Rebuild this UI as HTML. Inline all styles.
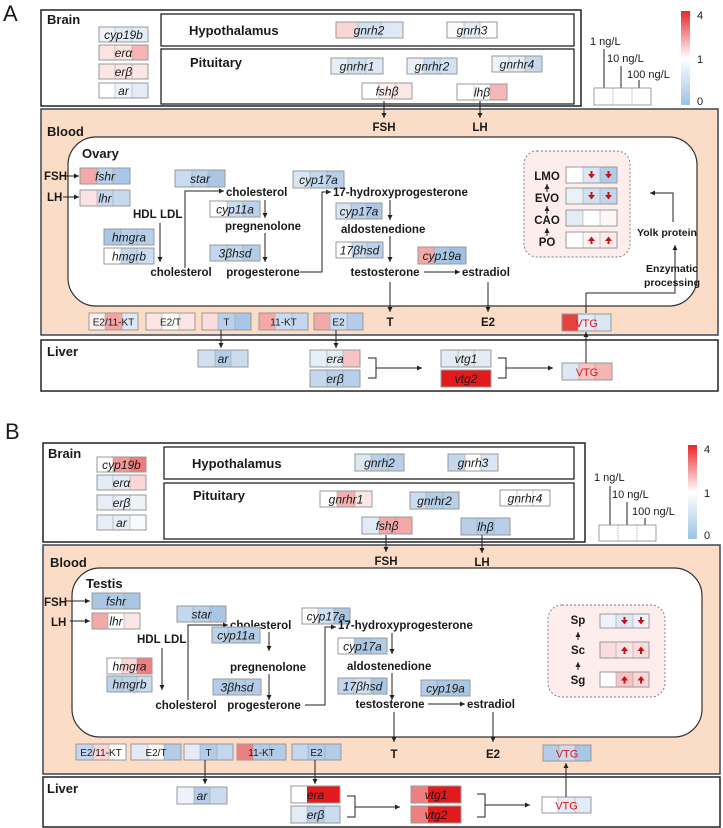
<!DOCTYPE html>
<html><head><meta charset="utf-8"><style>
html,body{margin:0;padding:0;background:#fff}
svg{display:block}
text{font-family:"Liberation Sans",sans-serif;fill:#1a1a1a}
.g{font-style:italic;font-size:12px;text-anchor:middle}
.r{font-size:10px;text-anchor:middle;font-family:"Liberation Sans Narrow","Liberation Sans",sans-serif}
.v{font-size:11px;text-anchor:middle;fill:#e0161a}
.b{font-weight:bold;font-size:11.5px}
.h{font-weight:bold;font-size:13px}
.m{font-weight:bold;font-size:11.5px;text-anchor:middle}
.l{font-size:11px}
.cb{stroke:#999;stroke-width:.5}
.o{fill:none;stroke:#999;stroke-width:1}
.ln{fill:none;stroke:#222;stroke-width:1}
</style></head><body>
<svg width="723" height="828" viewBox="0 0 723 828" xmlns="http://www.w3.org/2000/svg">
<defs>
<marker id="a" markerWidth="6" markerHeight="6" refX="5" refY="3" orient="auto" markerUnits="userSpaceOnUse"><path d="M0 0.5L5 3L0 5.5z" fill="#222"/></marker>
<linearGradient id="cg" x1="0" y1="0" x2="0" y2="1"><stop offset="0" stop-color="#e8262a"/><stop offset="0.5" stop-color="#fff"/><stop offset="1" stop-color="#9cc3e5"/></linearGradient>
<g id="dn"><path d="M-1 -4h2v3h2.5l-3.5 4.5l-3.5-4.5h2.5z" fill="#c0141a"/></g>
<g id="up"><path d="M-1 4h2v-3h2.5l-3.5-4.5l-3.5 4.5h2.5z" fill="#c0141a"/></g>
</defs>

<!-- ================= PANEL A ================= -->
<text x="3" y="21" style="font-size:22px">A</text>
<rect x="41" y="10" width="540" height="96" fill="#fff" stroke="#222" stroke-width="1.5"/>
<rect x="161" y="14" width="413" height="32" fill="none" stroke="#222" stroke-width="1.3"/>
<rect x="161" y="49" width="413" height="55" fill="none" stroke="#222" stroke-width="1.3"/>
<text x="47" y="24" class="h">Brain</text>
<text x="189" y="35" class="h">Hypothalamus</text>
<text x="190" y="67" class="h">Pituitary</text>

<!-- brain genes A -->
<g transform="translate(99,27)"><rect width="16" height="15" fill="#eef3fa"/><rect x="16" width="17" height="15" fill="#e3edf7"/><rect x="33" width="16" height="15" fill="#e3edf7"/><path class="cb" d="M16 0V15M33 0V15"/><rect class="o" width="49" height="15"/><text x="24.5" y="12" class="g">cyp19b</text></g>
<g transform="translate(99,45)"><rect width="16" height="15" fill="#fbe3e1"/><rect x="16" width="17" height="15" fill="#fbe3e1"/><rect x="33" width="16" height="15" fill="#f5b5b5"/><path class="cb" d="M16 0V15M33 0V15"/><rect class="o" width="49" height="15"/><text x="24.5" y="12" class="g">erα</text></g>
<g transform="translate(99,64)"><rect width="49" height="15" fill="#fbe6e4"/><path class="cb" d="M16 0V15M33 0V15"/><rect class="o" width="49" height="15"/><text x="24.5" y="12" class="g">erβ</text></g>
<g transform="translate(99,83)"><rect width="16" height="15" fill="#fff"/><rect x="16" width="17" height="15" fill="#eef4fb"/><rect x="33" width="16" height="15" fill="#e3edf7"/><path class="cb" d="M16 0V15M33 0V15"/><rect class="o" width="49" height="15"/><text x="24.5" y="12" class="g">ar</text></g>

<g transform="translate(336,22)"><rect width="22" height="16" fill="#f9d6d4"/><rect x="22" width="23" height="16" fill="#cfe0f1"/><rect x="45" width="22" height="16" fill="#dde9f5"/><path class="cb" d="M22 0V16M45 0V16"/><rect class="o" width="67" height="16"/><text x="33" y="12.5" class="g">gnrh2</text></g>
<g transform="translate(447,22)"><rect width="17" height="16" fill="#fafafa"/><rect x="17" width="16" height="16" fill="#e3ecf6"/><rect x="33" width="17" height="16" fill="#fdfdfd"/><path class="cb" d="M17 0V16M33 0V16"/><rect class="o" width="50" height="16"/><text x="25" y="12.5" class="g">gnrh3</text></g>
<g transform="translate(331,58)"><rect width="17" height="16" fill="#e6eef7"/><rect x="17" width="18" height="16" fill="#cfdff0"/><rect x="35" width="17" height="16" fill="#dde8f4"/><path class="cb" d="M17 0V16M35 0V16"/><rect class="o" width="52" height="16"/><text x="26" y="12.5" class="g">gnrhr1</text></g>
<g transform="translate(407,58)"><rect width="17" height="16" fill="#e8eff7"/><rect x="17" width="16" height="16" fill="#c7daee"/><rect x="33" width="17" height="16" fill="#d3e2f2"/><path class="cb" d="M17 0V16M33 0V16"/><rect class="o" width="50" height="16"/><text x="25" y="12.5" class="g">gnrhr2</text></g>
<g transform="translate(492,56)"><rect width="17" height="16" fill="#eef3f9"/><rect x="17" width="16" height="16" fill="#e3ecf6"/><rect x="33" width="17" height="16" fill="#c5d9ee"/><path class="cb" d="M17 0V16M33 0V16"/><rect class="o" width="50" height="16"/><text x="25" y="12.5" class="g">gnrhr4</text></g>
<g transform="translate(362,83)"><rect width="17" height="16" fill="#fff"/><rect x="17" width="16" height="16" fill="#fdf1f0"/><rect x="33" width="17" height="16" fill="#fbe7e6"/><path class="cb" d="M17 0V16M33 0V16"/><rect class="o" width="50" height="16"/><text x="25" y="12.5" class="g">fshβ</text></g>
<g transform="translate(457,84)"><rect width="33" height="16" fill="#fff"/><rect x="33" width="17" height="16" fill="#f5b8b8"/><path class="cb" d="M17 0V16M33 0V16"/><rect class="o" width="50" height="16"/><text x="25" y="12.5" class="g">lhβ</text></g>

<!-- legend A -->
<text x="590" y="45" class="l">1 ng/L</text>
<text x="607" y="62" class="l">10 ng/L</text>
<text x="627" y="78" class="l">100 ng/L</text>
<path class="ln" d="M604 49V88M621 66V88M639 80V88"/>
<rect x="594" y="88" width="57" height="17" fill="#fff" stroke="#888" stroke-width=".8"/>
<path d="M613 88V105M632 88V105" stroke="#888" stroke-width=".6" stroke-dasharray="1.5 1"/>
<rect x="681" y="11" width="9" height="94" fill="url(#cg)"/>
<text x="697" y="19" class="l">4</text><text x="697" y="63" class="l">1</text><text x="697" y="105" class="l">0</text>

<!-- blood A -->
<rect x="41" y="109" width="677" height="226" fill="#fadcc7" stroke="#3a4656" stroke-width="1.5"/>
<rect x="68" y="137" width="629" height="169" rx="28" fill="#fff" stroke="#333" stroke-width="1.2"/>
<text x="47" y="136" class="h">Blood</text>
<text x="82" y="158" class="h">Ovary</text>
<line x1="384" y1="101" x2="384" y2="118" class="ln" marker-end="url(#a)"/>
<text x="384" y="131" class="m">FSH</text>
<line x1="480" y1="101" x2="480" y2="118" class="ln" marker-end="url(#a)"/>
<text x="480" y="131" class="m">LH</text>

<text x="44" y="180" class="b">FSH</text>
<line x1="66" y1="176" x2="79" y2="176" class="ln" marker-end="url(#a)"/>
<text x="47" y="201" class="b">LH</text>
<line x1="63" y1="197" x2="79" y2="197" class="ln" marker-end="url(#a)"/>
<g transform="translate(80,168)"><rect width="17" height="16" fill="#f4a9a9"/><rect x="17" width="16" height="16" fill="#b9d1ea"/><rect x="33" width="17" height="16" fill="#a9c7e6"/><path class="cb" d="M17 0V16M33 0V16"/><rect class="o" width="50" height="16"/><text x="25" y="12.5" class="g">fshr</text></g>
<g transform="translate(80,190)"><rect width="17" height="16" fill="#fbe3e3"/><rect x="17" width="33" height="16" fill="#c6d9ee"/><path class="cb" d="M17 0V16M33 0V16"/><rect class="o" width="50" height="16"/><text x="25" y="12.5" class="g">lhr</text></g>
<text x="133" y="218" class="b">HDL</text><text x="160" y="218" class="b">LDL</text>
<g transform="translate(104,229)"><rect width="17" height="16" fill="#a9c6e5"/><rect x="17" width="33" height="16" fill="#b7cfe9"/><path class="cb" d="M17 0V16M33 0V16"/><rect class="o" width="50" height="16"/><text x="25" y="12.5" class="g">hmgra</text></g>
<g transform="translate(104,248)"><rect width="17" height="16" fill="#fff"/><rect x="17" width="16" height="16" fill="#c3d8ee"/><rect x="33" width="17" height="16" fill="#c9dcf0"/><path class="cb" d="M17 0V16M33 0V16"/><rect class="o" width="50" height="16"/><text x="25" y="12.5" class="g">hmgrb</text></g>
<line x1="160" y1="223" x2="160" y2="262" class="ln" marker-end="url(#a)"/>
<text x="181" y="276" class="m">cholesterol</text>
<path d="M185 268V191H224" class="ln" marker-end="url(#a)"/>
<g transform="translate(175,170)"><rect width="17" height="17" fill="#c8dbef"/><rect x="17" width="16" height="17" fill="#bad2ea"/><rect x="33" width="17" height="17" fill="#a9c6e5"/><path class="cb" d="M17 0V17M33 0V17"/><rect class="o" width="50" height="17"/><text x="25" y="13" class="g">star</text></g>
<text x="226" y="196" class="b">cholesterol</text>
<g transform="translate(210,201)"><rect width="17" height="16" fill="#fff"/><rect x="17" width="16" height="16" fill="#cadcf0"/><rect x="33" width="17" height="16" fill="#b9d1ea"/><path class="cb" d="M17 0V16M33 0V16"/><rect class="o" width="50" height="16"/><text x="25" y="12.5" class="g">cyp11a</text></g>
<line x1="265" y1="200" x2="265" y2="218" class="ln" marker-end="url(#a)"/>
<text x="263" y="230" class="m">pregnenolone</text>
<line x1="265" y1="233" x2="265" y2="262" class="ln" marker-end="url(#a)"/>
<g transform="translate(210,245)"><rect width="33" height="16" fill="#c3d8ee"/><rect x="33" width="17" height="16" fill="#b3cde8"/><path class="cb" d="M17 0V16M33 0V16"/><rect class="o" width="50" height="16"/><text x="25" y="12.5" class="g">3βhsd</text></g>
<text x="263" y="276" class="m">progesterone</text>
<path d="M300 272H322V192H331" class="ln" marker-end="url(#a)"/>
<g transform="translate(293,171)"><rect width="17" height="17" fill="#d8e5f3"/><rect x="17" width="17" height="17" fill="#c3d8ee"/><rect x="34" width="17" height="17" fill="#b7cfe9"/><path class="cb" d="M17 0V17M34 0V17"/><rect class="o" width="51" height="17"/><text x="25.5" y="13" class="g">cyp17a</text></g>
<text x="333" y="196" class="b">17-hydroxyprogesterone</text>
<g transform="translate(336,203)"><rect width="15" height="16" fill="#d8e5f3"/><rect x="15" width="16" height="16" fill="#b8d0ea"/><rect x="31" width="15" height="16" fill="#aac7e5"/><path class="cb" d="M15 0V16M31 0V16"/><rect class="o" width="46" height="16"/><text x="23" y="12.5" class="g">cyp17a</text></g>
<line x1="390" y1="200" x2="390" y2="220" class="ln" marker-end="url(#a)"/>
<text x="341" y="233" class="b">aldostenedione</text>
<line x1="390" y1="236" x2="390" y2="262" class="ln" marker-end="url(#a)"/>
<g transform="translate(336,242)"><rect width="16" height="16" fill="#fff"/><rect x="16" width="15" height="16" fill="#c9dcf0"/><rect x="31" width="16" height="16" fill="#b8d0ea"/><path class="cb" d="M16 0V16M31 0V16"/><rect class="o" width="47" height="16"/><text x="23.5" y="12.5" class="g">17βhsd</text></g>
<text x="385" y="276" class="m">testosterone</text>
<g transform="translate(418,247)"><rect width="16" height="17" fill="#f4a9a9"/><rect x="16" width="16" height="17" fill="#a9c6e5"/><rect x="32" width="16" height="17" fill="#9fc0e2"/><path class="cb" d="M16 0V17M32 0V17"/><rect class="o" width="48" height="17"/><text x="24" y="13" class="g">cyp19a</text></g>
<line x1="424" y1="272" x2="460" y2="272" class="ln" marker-end="url(#a)"/>
<text x="462" y="276" class="b">estradiol</text>
<line x1="390" y1="282" x2="390" y2="312" class="ln" marker-end="url(#a)"/>
<text x="390" y="326" class="m">T</text>
<line x1="488" y1="282" x2="488" y2="312" class="ln" marker-end="url(#a)"/>
<text x="488" y="326" class="m">E2</text>

<!-- dashed A -->
<rect x="524" y="151" width="106" height="106" rx="13" fill="#fdeeed" stroke="#777" stroke-width=".9" stroke-dasharray="2 2"/>
<text x="547" y="180" class="m">LMO</text><text x="547" y="202" class="m">EVO</text><text x="547" y="224" class="m">CAO</text><text x="547" y="246" class="m">PO</text>
<line x1="547" y1="192" x2="547" y2="184" class="ln" marker-end="url(#a)"/>
<line x1="547" y1="214" x2="547" y2="206" class="ln" marker-end="url(#a)"/>
<line x1="547" y1="236" x2="547" y2="228" class="ln" marker-end="url(#a)"/>
<g transform="translate(566,167)"><rect width="17" height="16" fill="#fff"/><rect x="17" width="17" height="16" fill="#dbe7f4"/><rect x="34" width="17" height="16" fill="#b3cde8"/><path class="cb" d="M17 0V16M34 0V16"/><rect class="o" width="51" height="16"/><use href="#dn" x="25.5" y="8"/><use href="#dn" x="42.5" y="8"/></g>
<g transform="translate(566,188)"><rect width="17" height="16" fill="#eaf1f9"/><rect x="17" width="17" height="16" fill="#d0e0f1"/><rect x="34" width="17" height="16" fill="#c1d6ed"/><path class="cb" d="M17 0V16M34 0V16"/><rect class="o" width="51" height="16"/><use href="#dn" x="25.5" y="8"/><use href="#dn" x="42.5" y="8"/></g>
<g transform="translate(566,210)"><rect width="17" height="16" fill="#e3ecf6"/><rect x="17" width="17" height="16" fill="#fff"/><rect x="34" width="17" height="16" fill="#fdf6f6"/><path class="cb" d="M17 0V16M34 0V16"/><rect class="o" width="51" height="16"/></g>
<g transform="translate(566,232)"><rect width="17" height="16" fill="#fff"/><rect x="17" width="17" height="16" fill="#fdf1f1"/><rect x="34" width="17" height="16" fill="#fdeaea"/><path class="cb" d="M17 0V16M34 0V16"/><rect class="o" width="51" height="16"/><use href="#up" x="25.5" y="8"/><use href="#up" x="42.5" y="8"/></g>
<path d="M673 222V193H650" class="ln" marker-end="url(#a)"/>
<text x="667" y="236" class="m" style="font-size:10.5px">Yolk protein</text>
<path d="M586 313V293H675V245" class="ln" marker-end="url(#a)"/>
<text x="672" y="272" class="m" style="font-size:10.5px">Enzymatic</text>
<text x="672" y="286" class="m" style="font-size:10.5px">processing</text>

<!-- row A -->
<g transform="translate(89,313)"><rect width="16" height="17" fill="#fdf2f2"/><rect x="16" width="17" height="17" fill="#f2a5a5"/><rect x="33" width="16" height="17" fill="#dde8f4"/><path class="cb" d="M16 0V17M33 0V17"/><rect class="o" width="49" height="17"/><text x="24.5" y="12.5" class="r">E2/11-KT</text></g>
<g transform="translate(146,313)"><rect width="16" height="17" fill="#fbe6e6"/><rect x="16" width="17" height="17" fill="#fff"/><rect x="33" width="16" height="17" fill="#fbe6e6"/><path class="cb" d="M16 0V17M33 0V17"/><rect class="o" width="49" height="17"/><text x="24.5" y="12.5" class="r">E2/T</text></g>
<g transform="translate(202,313)"><rect width="16" height="17" fill="#fbdcdc"/><rect x="16" width="17" height="17" fill="#b8d0ea"/><rect x="33" width="16" height="17" fill="#a9c6e5"/><path class="cb" d="M16 0V17M33 0V17"/><rect class="o" width="49" height="17"/><text x="24.5" y="12.5" class="r">T</text></g>
<g transform="translate(259,313)"><rect width="16" height="17" fill="#f4a9a9"/><rect x="16" width="17" height="17" fill="#c9dcf0"/><rect x="33" width="16" height="17" fill="#c3d8ee"/><path class="cb" d="M16 0V17M33 0V17"/><rect class="o" width="49" height="17"/><text x="24.5" y="12.5" class="r">11-KT</text></g>
<g transform="translate(314,313)"><rect width="16" height="17" fill="#f4a9a9"/><rect x="16" width="17" height="17" fill="#c9dcf0"/><rect x="33" width="16" height="17" fill="#b3cde8"/><path class="cb" d="M16 0V17M33 0V17"/><rect class="o" width="49" height="17"/><text x="24.5" y="12.5" class="r">E2</text></g>
<g transform="translate(562,314)"><rect width="16" height="17" fill="#e8403f"/><rect x="16" width="17" height="17" fill="#e3ecf6"/><rect x="33" width="16" height="17" fill="#d9e6f3"/><path class="cb" d="M16 0V17M33 0V17"/><rect class="o" width="49" height="17"/><text x="24.5" y="13" class="v">VTG</text></g>

<!-- liver A -->
<rect x="41" y="340" width="677" height="51" fill="#fff" stroke="#222" stroke-width="1.5"/>
<text x="47" y="356" class="h">Liver</text>
<line x1="221" y1="330" x2="221" y2="348" class="ln" marker-end="url(#a)"/>
<line x1="336" y1="330" x2="336" y2="348" class="ln" marker-end="url(#a)"/>
<g transform="translate(198,350)"><rect width="17" height="17" fill="#d0e0f1"/><rect x="17" width="16" height="17" fill="#b3cde8"/><rect x="33" width="17" height="17" fill="#c9dcf0"/><path class="cb" d="M17 0V17M33 0V17"/><rect class="o" width="50" height="17"/><text x="25" y="13" class="g">ar</text></g>
<g transform="translate(310,350)"><rect width="33" height="17" fill="#e6eef7"/><rect x="33" width="17" height="17" fill="#f7c3c3"/><path class="cb" d="M17 0V17M33 0V17"/><rect class="o" width="50" height="17"/><text x="25" y="13" class="g">era</text></g>
<g transform="translate(310,370)"><rect width="17" height="17" fill="#c3d8ee"/><rect x="17" width="33" height="17" fill="#b7cfe9"/><path class="cb" d="M17 0V17M33 0V17"/><rect class="o" width="50" height="17"/><text x="25" y="13" class="g">erβ</text></g>
<path d="M368 358H376V378H368M376 368H422" class="ln" marker-end="url(#a)"/>
<g transform="translate(441,350)"><rect width="50" height="17" fill="#e3ecf6"/><path class="cb" d="M17 0V17M33 0V17"/><rect class="o" width="50" height="17"/><text x="25" y="13" class="g">vtg1</text></g>
<g transform="translate(441,370)"><rect width="50" height="17" fill="#e31a1c"/><rect class="o" width="50" height="17"/><text x="25" y="13" class="g">vtg2</text></g>
<path d="M498 358H506V378H498M506 368H553" class="ln" marker-end="url(#a)"/>
<g transform="translate(562,363)"><rect width="17" height="17" fill="#dde8f4"/><rect x="17" width="16" height="17" fill="#f7c3c3"/><rect x="33" width="17" height="17" fill="#f4b5b5"/><path class="cb" d="M17 0V17M33 0V17"/><rect class="o" width="50" height="17"/><text x="25" y="13" class="v">VTG</text></g>
<line x1="586" y1="363" x2="586" y2="332" class="ln" marker-end="url(#a)"/>

<!-- ================= PANEL B ================= -->
<text x="5" y="439" style="font-size:22px">B</text>
<rect x="43" y="443" width="542" height="99" fill="#fff" stroke="#222" stroke-width="1.5"/>
<rect x="164" y="447" width="410" height="32" fill="none" stroke="#222" stroke-width="1.3"/>
<rect x="164" y="483" width="410" height="56" fill="none" stroke="#222" stroke-width="1.3"/>
<text x="48" y="458" class="h">Brain</text>
<text x="192" y="468" class="h">Hypothalamus</text>
<text x="193" y="500" class="h">Pituitary</text>

<g transform="translate(97,457)"><rect width="16" height="15" fill="#fff"/><rect x="16" width="17" height="15" fill="#f09a9a"/><rect x="33" width="16" height="15" fill="#ec7b7b"/><path class="cb" d="M16 0V15M33 0V15"/><rect class="o" width="49" height="15"/><text x="24.5" y="12" class="g">cyp19b</text></g>
<g transform="translate(97,475)"><rect width="33" height="15" fill="#e3ecf6"/><rect x="33" width="16" height="15" fill="#fbd6d6"/><path class="cb" d="M16 0V15M33 0V15"/><rect class="o" width="49" height="15"/><text x="24.5" y="12" class="g">erα</text></g>
<g transform="translate(97,495)"><rect width="33" height="15" fill="#e6eef7"/><rect x="33" width="16" height="15" fill="#eef3fa"/><path class="cb" d="M16 0V15M33 0V15"/><rect class="o" width="49" height="15"/><text x="24.5" y="12" class="g">erβ</text></g>
<g transform="translate(97,515)"><rect width="33" height="15" fill="#e6eef7"/><rect x="33" width="16" height="15" fill="#f7f9fc"/><path class="cb" d="M16 0V15M33 0V15"/><rect class="o" width="49" height="15"/><text x="24.5" y="12" class="g">ar</text></g>

<g transform="translate(355,454)"><rect width="16" height="17" fill="#dde8f4"/><rect x="16" width="33" height="17" fill="#b7cfe9"/><path class="cb" d="M16 0V17M33 0V17"/><rect class="o" width="49" height="17"/><text x="24.5" y="13" class="g">gnrh2</text></g>
<g transform="translate(448,454)"><rect width="17" height="17" fill="#c3d8ee"/><rect x="17" width="16" height="17" fill="#fff"/><rect x="33" width="17" height="17" fill="#d8e5f3"/><path class="cb" d="M17 0V17M33 0V17"/><rect class="o" width="50" height="17"/><text x="25" y="13" class="g">gnrh3</text></g>
<g transform="translate(320,491)"><rect width="17" height="16" fill="#fff"/><rect x="17" width="18" height="16" fill="#f4b0b0"/><rect x="35" width="17" height="16" fill="#fbe6e6"/><path class="cb" d="M17 0V16M35 0V16"/><rect class="o" width="52" height="16"/><text x="26" y="12.5" class="g">gnrhr1</text></g>
<g transform="translate(410,492)"><rect width="16" height="17" fill="#c9dcf0"/><rect x="16" width="17" height="17" fill="#b3cde8"/><rect x="33" width="16" height="17" fill="#b7cfe9"/><path class="cb" d="M16 0V17M33 0V17"/><rect class="o" width="49" height="17"/><text x="24.5" y="13" class="g">gnrhr2</text></g>
<g transform="translate(500,490)"><rect width="17" height="16" fill="#fff"/><rect x="17" width="16" height="16" fill="#fafafa"/><rect x="33" width="17" height="16" fill="#fff"/><path class="cb" d="M17 0V16M33 0V16"/><rect class="o" width="50" height="16"/><text x="25" y="12.5" class="g">gnrhr4</text></g>
<g transform="translate(362,517)"><rect width="17" height="17" fill="#e3ecf6"/><rect x="17" width="33" height="17" fill="#f4a9a9"/><path class="cb" d="M17 0V17M33 0V17"/><rect class="o" width="50" height="17"/><text x="25" y="13" class="g">fshβ</text></g>
<g transform="translate(461,518)"><rect width="16" height="17" fill="#b7cfe9"/><rect x="16" width="17" height="17" fill="#b3cde8"/><rect x="33" width="16" height="17" fill="#b7cfe9"/><path class="cb" d="M16 0V17M33 0V17"/><rect class="o" width="49" height="17"/><text x="24.5" y="13" class="g">lhβ</text></g>

<!-- legend B -->
<text x="594" y="481" class="l">1 ng/L</text>
<text x="612" y="498" class="l">10 ng/L</text>
<text x="632" y="515" class="l">100 ng/L</text>
<path class="ln" d="M610 486V525M627 502V525M645 518V525"/>
<rect x="599" y="525" width="57" height="16" fill="#fff" stroke="#888" stroke-width=".8"/>
<path d="M618 525V541M637 525V541" stroke="#888" stroke-width=".6" stroke-dasharray="1.5 1"/>
<rect x="688" y="445" width="9" height="94" fill="url(#cg)"/>
<text x="704" y="453" class="l">4</text><text x="704" y="497" class="l">1</text><text x="704" y="539" class="l">0</text>

<!-- blood B -->
<rect x="43" y="545" width="677" height="229" fill="#fadcc7" stroke="#3a4656" stroke-width="1.5"/>
<rect x="72" y="568" width="630" height="169" rx="28" fill="#fff" stroke="#333" stroke-width="1.2"/>
<text x="50" y="567" class="h">Blood</text>
<text x="86" y="588" class="h">Testis</text>
<line x1="386" y1="535" x2="386" y2="552" class="ln" marker-end="url(#a)"/>
<text x="386" y="565" class="m">FSH</text>
<line x1="482" y1="535" x2="482" y2="553" class="ln" marker-end="url(#a)"/>
<text x="482" y="566" class="m">LH</text>

<text x="44" y="606" class="b">FSH</text>
<line x1="66" y1="601" x2="90" y2="601" class="ln" marker-end="url(#a)"/>
<text x="51" y="626" class="b">LH</text>
<line x1="70" y1="621" x2="90" y2="621" class="ln" marker-end="url(#a)"/>
<g transform="translate(92,593)"><rect width="16" height="16" fill="#a9c6e5"/><rect x="16" width="16" height="16" fill="#b3cde8"/><rect x="32" width="16" height="16" fill="#a9c6e5"/><path class="cb" d="M16 0V16M32 0V16"/><rect class="o" width="48" height="16"/><text x="24" y="12.5" class="g">fshr</text></g>
<g transform="translate(92,613)"><rect width="16" height="16" fill="#f4a9a9"/><rect x="16" width="16" height="16" fill="#fff"/><rect x="32" width="16" height="16" fill="#fbe6e6"/><path class="cb" d="M16 0V16M32 0V16"/><rect class="o" width="48" height="16"/><text x="24" y="12.5" class="g">lhr</text></g>
<text x="137" y="643" class="b">HDL</text><text x="164" y="643" class="b">LDL</text>
<g transform="translate(107,658)"><rect width="15" height="16" fill="#fff"/><rect x="15" width="15" height="16" fill="#fbd6d6"/><rect x="30" width="15" height="16" fill="#f08080"/><path class="cb" d="M15 0V16M30 0V16"/><rect class="o" width="45" height="16"/><text x="22.5" y="12.5" class="g">hmgra</text></g>
<g transform="translate(107,676)"><rect width="30" height="16" fill="#bad2ea"/><rect x="30" width="15" height="16" fill="#c9dcf0"/><path class="cb" d="M15 0V16M30 0V16"/><rect class="o" width="45" height="16"/><text x="22.5" y="12.5" class="g">hmgrb</text></g>
<line x1="162" y1="648" x2="162" y2="690" class="ln" marker-end="url(#a)"/>
<text x="186" y="709" class="m">cholesterol</text>
<path d="M188 700V625H228" class="ln" marker-end="url(#a)"/>
<g transform="translate(177,606)"><rect width="16" height="16" fill="#c3d8ee"/><rect x="16" width="17" height="16" fill="#bad2ea"/><rect x="33" width="16" height="16" fill="#a9c6e5"/><path class="cb" d="M16 0V16M33 0V16"/><rect class="o" width="49" height="16"/><text x="24.5" y="12.5" class="g">star</text></g>
<text x="230" y="629" class="b">cholesterol</text>
<g transform="translate(212,627)"><rect width="16" height="16" fill="#bad2ea"/><rect x="16" width="32" height="16" fill="#b3cde8"/><path class="cb" d="M16 0V16M32 0V16"/><rect class="o" width="48" height="16"/><text x="24" y="12.5" class="g">cyp11a</text></g>
<line x1="269" y1="632" x2="269" y2="651" class="ln" marker-end="url(#a)"/>
<text x="268" y="671" class="m">pregnenolone</text>
<line x1="269" y1="674" x2="269" y2="700" class="ln" marker-end="url(#a)"/>
<g transform="translate(213,679)"><rect width="48" height="16" fill="#b3cde8"/><path class="cb" d="M16 0V16M32 0V16"/><rect class="o" width="48" height="16"/><text x="24" y="12.5" class="g">3βhsd</text></g>
<text x="264" y="709" class="m">progesterone</text>
<path d="M305 705H325V627H336" class="ln" marker-end="url(#a)"/>
<g transform="translate(302,608)"><rect width="16" height="16" fill="#fff"/><rect x="16" width="16" height="16" fill="#d0e0f1"/><rect x="32" width="16" height="16" fill="#a9c6e5"/><path class="cb" d="M16 0V16M32 0V16"/><rect class="o" width="48" height="16"/><text x="24" y="12.5" class="g">cyp17a</text></g>
<text x="338" y="629" class="b">17-hydroxyprogesterone</text>
<g transform="translate(338,638)"><rect width="16" height="16" fill="#fff"/><rect x="16" width="17" height="16" fill="#a9c6e5"/><rect x="33" width="16" height="16" fill="#b3cde8"/><path class="cb" d="M16 0V16M33 0V16"/><rect class="o" width="49" height="16"/><text x="24.5" y="12.5" class="g">cyp17a</text></g>
<line x1="392" y1="633" x2="392" y2="654" class="ln" marker-end="url(#a)"/>
<text x="347" y="670" class="b">aldostenedione</text>
<line x1="392" y1="673" x2="392" y2="700" class="ln" marker-end="url(#a)"/>
<g transform="translate(338,678)"><rect width="16" height="16" fill="#c3d8ee"/><rect x="16" width="17" height="16" fill="#d0e0f1"/><rect x="33" width="16" height="16" fill="#a9c6e5"/><path class="cb" d="M16 0V16M33 0V16"/><rect class="o" width="49" height="16"/><text x="24.5" y="12.5" class="g">17βhsd</text></g>
<text x="390" y="708" class="m">testosterone</text>
<g transform="translate(421,680)"><rect width="16" height="16" fill="#b3cde8"/><rect x="16" width="33" height="16" fill="#a9c6e5"/><path class="cb" d="M16 0V16M33 0V16"/><rect class="o" width="49" height="16"/><text x="24.5" y="12.5" class="g">cyp19a</text></g>
<line x1="428" y1="704" x2="465" y2="704" class="ln" marker-end="url(#a)"/>
<text x="467" y="708" class="b">estradiol</text>
<line x1="394" y1="712" x2="394" y2="742" class="ln" marker-end="url(#a)"/>
<text x="394" y="758" class="m">T</text>
<line x1="493" y1="712" x2="493" y2="742" class="ln" marker-end="url(#a)"/>
<text x="493" y="758" class="m">E2</text>

<!-- dashed B -->
<rect x="548" y="605" width="117" height="92" rx="14" fill="#fdeeed" stroke="#777" stroke-width=".9" stroke-dasharray="2 2"/>
<text x="578" y="624" class="m">Sp</text><text x="578" y="654" class="m">Sc</text><text x="578" y="684" class="m">Sg</text>
<line x1="578" y1="640" x2="578" y2="632" class="ln" marker-end="url(#a)"/>
<line x1="578" y1="670" x2="578" y2="662" class="ln" marker-end="url(#a)"/>
<g transform="translate(600,614)"><rect width="16" height="14" fill="#eef3fa"/><rect x="16" width="17" height="14" fill="#dde8f4"/><rect x="33" width="16" height="14" fill="#eef3fa"/><path class="cb" d="M16 0V14M33 0V14"/><rect class="o" width="49" height="14"/><use href="#dn" x="24.5" y="7"/><use href="#dn" x="41" y="7"/></g>
<g transform="translate(600,642)"><rect width="16" height="16" fill="#fbdcdc"/><rect x="16" width="17" height="16" fill="#fbe3e3"/><rect x="33" width="16" height="16" fill="#fbdcdc"/><path class="cb" d="M16 0V16M33 0V16"/><rect class="o" width="49" height="16"/><use href="#up" x="24.5" y="8"/><use href="#up" x="41" y="8"/></g>
<g transform="translate(600,672)"><rect width="16" height="15" fill="#fff"/><rect x="16" width="17" height="15" fill="#f7c3c3"/><rect x="33" width="16" height="15" fill="#fbd6d6"/><path class="cb" d="M16 0V15M33 0V15"/><rect class="o" width="49" height="15"/><use href="#up" x="24.5" y="7.5"/><use href="#up" x="41" y="7.5"/></g>

<!-- row B -->
<g transform="translate(76,744)"><rect width="17" height="16" fill="#c3d8ee"/><rect x="17" width="16" height="16" fill="#fbd6d6"/><rect x="33" width="17" height="16" fill="#fff"/><path class="cb" d="M17 0V16M33 0V16"/><rect class="o" width="50" height="16"/><text x="25" y="12" class="r">E2/11-KT</text></g>
<g transform="translate(131,744)"><rect width="17" height="16" fill="#e3ecf6"/><rect x="17" width="16" height="16" fill="#fff"/><rect x="33" width="17" height="16" fill="#b3cde8"/><path class="cb" d="M17 0V16M33 0V16"/><rect class="o" width="50" height="16"/><text x="25" y="12" class="r">E2/T</text></g>
<g transform="translate(184,744)"><rect width="16" height="16" fill="#e3ecf6"/><rect x="16" width="17" height="16" fill="#b3cde8"/><rect x="33" width="16" height="16" fill="#c3d8ee"/><path class="cb" d="M16 0V16M33 0V16"/><rect class="o" width="49" height="16"/><text x="24.5" y="12" class="r">T</text></g>
<g transform="translate(237,744)"><rect width="16" height="16" fill="#ee7f7f"/><rect x="16" width="33" height="16" fill="#b3cde8"/><path class="cb" d="M16 0V16M33 0V16"/><rect class="o" width="49" height="16"/><text x="24.5" y="12" class="r">11-KT</text></g>
<g transform="translate(292,744)"><rect width="16" height="16" fill="#c3d8ee"/><rect x="16" width="33" height="16" fill="#b3cde8"/><path class="cb" d="M16 0V16M33 0V16"/><rect class="o" width="49" height="16"/><text x="24.5" y="12" class="r">E2</text></g>
<g transform="translate(543,745)"><rect width="16" height="16" fill="#b3cde8"/><rect x="16" width="16" height="16" fill="#c9dcf0"/><rect x="32" width="16" height="16" fill="#a9c6e5"/><path class="cb" d="M16 0V16M32 0V16"/><rect class="o" width="48" height="16"/><text x="24" y="12.5" class="v">VTG</text></g>

<!-- liver B -->
<rect x="43" y="777" width="677" height="50" fill="#fff" stroke="#222" stroke-width="1.5"/>
<text x="47" y="793" class="h">Liver</text>
<line x1="205" y1="760" x2="205" y2="784" class="ln" marker-end="url(#a)"/>
<line x1="315" y1="760" x2="315" y2="784" class="ln" marker-end="url(#a)"/>
<g transform="translate(177,787)"><rect width="17" height="17" fill="#eef3fa"/><rect x="17" width="16" height="17" fill="#b3cde8"/><rect x="33" width="17" height="17" fill="#c9dcf0"/><path class="cb" d="M17 0V17M33 0V17"/><rect class="o" width="50" height="17"/><text x="25" y="13" class="g">ar</text></g>
<g transform="translate(291,786)"><rect width="16" height="17" fill="#fff"/><rect x="16" width="33" height="17" fill="#e31a1c"/><rect class="o" width="49" height="17"/><text x="24.5" y="13" class="g">era</text></g>
<g transform="translate(291,806)"><rect width="16" height="17" fill="#e3ecf6"/><rect x="16" width="17" height="17" fill="#b7cfe9"/><rect x="33" width="16" height="17" fill="#c9dcf0"/><path class="cb" d="M16 0V17M33 0V17"/><rect class="o" width="49" height="17"/><text x="24.5" y="13" class="g">erβ</text></g>
<path d="M347 796H355V817H347M355 807H400" class="ln" marker-end="url(#a)"/>
<g transform="translate(411,786)"><rect width="17" height="17" fill="#ee7f7f"/><rect x="17" width="33" height="17" fill="#e31a1c"/><rect class="o" width="50" height="17"/><text x="25" y="13" class="g">vtg1</text></g>
<g transform="translate(411,806)"><rect width="17" height="17" fill="#ee7f7f"/><rect x="17" width="33" height="17" fill="#e31a1c"/><rect class="o" width="50" height="17"/><text x="25" y="13" class="g">vtg2</text></g>
<path d="M477 794H485V817H477M485 805H530" class="ln" marker-end="url(#a)"/>
<g transform="translate(542,797)"><rect width="16" height="16" fill="#fff"/><rect x="16" width="33" height="16" fill="#e3ecf6"/><path class="cb" d="M16 0V16M33 0V16"/><rect class="o" width="49" height="16"/><text x="24.5" y="12.5" class="v">VTG</text></g>
<line x1="566" y1="797" x2="566" y2="763" class="ln" marker-end="url(#a)"/>
</svg>
</body></html>
